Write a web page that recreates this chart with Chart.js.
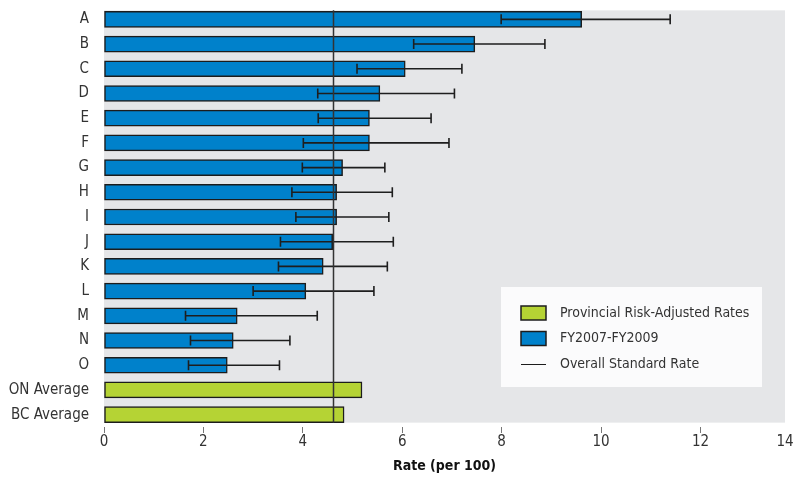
<!DOCTYPE html>
<html>
<head>
<meta charset="utf-8">
<script src="https://cdn.jsdelivr.net/npm/chart.js@4.4.1/dist/chart.umd.min.js"></script>
<style>
html,body{margin:0;padding:0;background:#fff;overflow:hidden}
</style>
</head>
<body>
<canvas id="c" width="797" height="478"></canvas>
<script>
// data
const categories=['A','B','C','D','E','F','G','H','I','J','K','L','M','N','O','ON Average','BC Average'];
const rates =[9.61,7.46,6.06,5.55,5.34,5.34,4.80,4.68,4.68,4.60,4.41,4.06,2.68,2.60,2.48,5.19,4.83];
const ciLow =[7.99,6.23,5.09,4.30,4.31,4.01,3.99,3.78,3.86,3.55,3.51,3.00,1.64,1.74,1.70,null,null];
const ciHigh=[11.39,8.87,7.20,7.05,6.58,6.94,5.65,5.80,5.73,5.82,5.70,5.43,4.29,3.74,3.53,null,null];
const provincial=categories.map(c=>c.endsWith('Average'));
const overallRate=4.60;
const axisMax=13.7;   // plot area ends just short of 14, last label reads "14"
const lastTickLabel='14';
const legendLabels=['Provincial Risk-Adjusted Rates','FY2007-FY2009','Overall Standard Rate'];

const BLUE='#0081cb', GREEN='#b5d334', INK='#1c1c1c';
const FONT="'DejaVu Sans Condensed','Liberation Sans Narrow',sans-serif";

const BAR=16;

const bgPlugin={
  id:'bg',
  beforeDraw(chart){
    const {ctx,chartArea:a,scales:{y}}=chart;
    const top=y.getPixelForValue(0)-BAR/2-1, bot=y.getPixelForValue(categories.length-1)+BAR/2;
    ctx.save();ctx.fillStyle='#e5e6e8';ctx.fillRect(a.left,top,a.right-a.left,bot-top);ctx.restore();
  }
};

const overlayPlugin={
  id:'overlay',
  afterDatasetsDraw(chart){
    const {ctx,scales:{x,y}}=chart;
    ctx.save();
    ctx.strokeStyle='#1e1e1e';ctx.lineWidth=1.6;
    categories.forEach((c,i)=>{
      if(ciLow[i]==null)return;
      const lx=x.getPixelForValue(ciLow[i]),hx=x.getPixelForValue(ciHigh[i]),yy=y.getPixelForValue(i);
      ctx.beginPath();
      ctx.moveTo(lx,yy);ctx.lineTo(hx,yy);
      ctx.moveTo(lx,yy-5);ctx.lineTo(lx,yy+5);
      ctx.moveTo(hx,yy-5);ctx.lineTo(hx,yy+5);
      ctx.stroke();
    });
    // overall standard rate
    const rx=Math.round(x.getPixelForValue(overallRate))+0.5;
    const top=y.getPixelForValue(0)-BAR/2-1, bot=y.getPixelForValue(categories.length-1)+BAR/2;
    ctx.strokeStyle='#333';ctx.lineWidth=1.5;
    ctx.beginPath();ctx.moveTo(rx,top);ctx.lineTo(rx,bot);ctx.stroke();
    ctx.restore();
  },
  afterDraw(chart){
    const {ctx}=chart;
    ctx.save();
    ctx.fillStyle='#fbfbfc';ctx.fillRect(501,287,261,100);
    ctx.font='14px '+FONT;ctx.textBaseline='middle';
    const swatch=[GREEN,BLUE,null];
    legendLabels.forEach((t,i)=>{
      const cy=313+i*25.5;
      if(swatch[i]){
        ctx.fillStyle=swatch[i];ctx.fillRect(521,cy-7,25,14);
        ctx.strokeStyle=INK;ctx.lineWidth=1.5;ctx.strokeRect(521,cy-7,25,14);
      }else{
        ctx.strokeStyle=INK;ctx.lineWidth=1;ctx.beginPath();ctx.moveTo(521,cy+0.5);ctx.lineTo(546,cy+0.5);ctx.stroke();
      }
      ctx.fillStyle='#333';ctx.fillText(t,560,cy);
    });
    ctx.restore();
  }
};

new Chart(document.getElementById('c'),{
  type:'bar',
  data:{
    labels:categories,
    datasets:[{
      data:rates,
      backgroundColor:provincial.map(p=>p?GREEN:BLUE),
      borderColor:INK,borderWidth:1.5,borderSkipped:false,
      barThickness:BAR
    }]
  },
  options:{
    indexAxis:'y',responsive:false,animation:false,
    layout:{padding:{left:0,right:12,top:7,bottom:0}},
    plugins:{legend:{display:false},tooltip:{enabled:false}},
    scales:{
      y:{
        grid:{display:false,drawTicks:false},border:{display:false},
        ticks:{color:'#333',font:{family:FONT,size:15},padding:15},
        afterFit(s){s.width=104;s.paddingTop=0;s.paddingBottom=0;}
      },
      x:{
        min:0,max:axisMax,
        grid:{drawOnChartArea:false,drawTicks:true,tickLength:6,color:c=>c.index===c.scale.ticks.length-1?'rgba(0,0,0,0)':'#777'},
        border:{display:false},
        ticks:{stepSize:2,color:'#333',font:{family:FONT,size:15},padding:0,
          callback:(v,i,t)=>i===t.length-1?lastTickLabel:v},
        title:{display:true,text:'Rate (per 100)',color:'#111',font:{family:FONT,size:14,weight:'bold'},padding:{top:0,bottom:3}},
        afterFit(s){s.height=51;}
      }
    }
  },
  plugins:[bgPlugin,overlayPlugin]
});
</script>
</body>
</html>
